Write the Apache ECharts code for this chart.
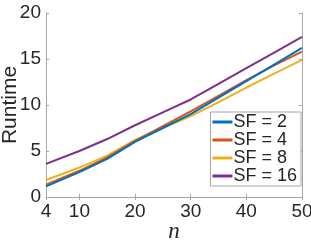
<!DOCTYPE html>
<html>
<head>
<meta charset="utf-8">
<script src="https://cdn.jsdelivr.net/npm/echarts@6/dist/echarts.min.js"></script>
<style>html,body{margin:0;padding:0;background:#fff}#c{width:311px;height:245px}</style>
</head>
<body>
<div id="c"></div>
<script>
var nValues = [4, 10, 15, 20, 25, 30, 35, 40, 45, 50];
var sf2  = [1.15, 2.7, 4.15, 6.0, 7.5, 9.0, 10.8, 12.6, 14.4, 16.2];
var sf4  = [1.35, 2.85, 4.3, 6.1, 7.7, 9.3, 11.0, 12.7, 14.3, 15.8];
var sf8  = [1.85, 3.2, 4.5, 6.2, 7.5, 8.8, 10.3, 11.9, 13.4, 14.9];
var sf16 = [3.6, 5.0, 6.3, 7.8, 9.2, 10.6, 12.3, 14.0, 15.7, 17.4];
var seriesNames = ['SF = 2', 'SF = 4', 'SF = 8', 'SF = 16'];
var xTicks = [4, 10, 20, 30, 40, 50];
var colors = ['#0072BD', '#D95319', '#EDB120', '#7E2F8E'];

function pairs(ys) { return nValues.map(function (x, i) { return [x, ys[i]]; }); }
var font = 'Liberation Sans, Arial, sans-serif';
var axisCol = '#a6a6a6';
var textCol = '#262626';

var chart = echarts.init(document.getElementById('c'), null, {renderer: 'canvas'});
var allData = [sf2, sf4, sf8, sf16];
chart.setOption({
  animation: false,
  color: colors,
  grid: {left: 46, right: 9, top: 13, bottom: 48, containLabel: false, outerBoundsMode: 'none'},
  legend: {
    right: 10, top: 112,
    orient: 'vertical',
    itemWidth: 20, itemHeight: 3, itemGap: 0,
    icon: 'rect',
    backgroundColor: '#fff',
    borderColor: axisCol, borderWidth: 1, borderRadius: 0,
    padding: [1, 4, 1, 2],
    textStyle: {fontFamily: font, fontSize: 18, color: textCol, padding: [0, 0, 0, -4], lineHeight: 18},
    data: seriesNames
  },
  xAxis: [{
    type: 'value', min: 4, max: 50,
    customValues: xTicks,
    axisLine: {show: true, lineStyle: {color: axisCol}},
    axisTick: {show: true, inside: true, length: 3, lineStyle: {color: axisCol}, customValues: xTicks},
    axisLabel: {fontFamily: font, fontSize: 19, color: textCol, margin: 5, customValues: xTicks},
    splitLine: {show: false},
    name: 'n', nameLocation: 'middle', nameGap: 23, nameMoveOverlap: false,
    nameTextStyle: {fontFamily: 'Liberation Serif, Times New Roman, serif', fontStyle: 'italic', fontSize: 23, color: textCol}
  }, {
    type: 'value', min: 4, max: 50, position: 'top',
    axisLine: {show: true, lineStyle: {color: axisCol}},
    axisTick: {show: true, inside: true, length: 3, lineStyle: {color: axisCol}, customValues: xTicks},
    axisLabel: {show: false, customValues: xTicks},
    splitLine: {show: false}
  }],
  yAxis: [{
    type: 'value', min: 0, max: 20, interval: 5,
    axisLine: {show: true, lineStyle: {color: axisCol}},
    axisTick: {show: true, inside: true, length: 3, lineStyle: {color: axisCol}},
    axisLabel: {fontFamily: font, fontSize: 19, color: textCol, margin: 5},
    splitLine: {show: false},
    name: 'Runtime', nameLocation: 'middle', nameGap: 25, nameRotate: 90, nameMoveOverlap: false,
    nameTextStyle: {fontFamily: font, fontSize: 21, color: textCol}
  }, {
    type: 'value', min: 0, max: 20, interval: 5, position: 'right',
    axisLine: {show: true, lineStyle: {color: axisCol}},
    axisTick: {show: true, inside: true, length: 3, lineStyle: {color: axisCol}},
    axisLabel: {show: false},
    splitLine: {show: false}
  }],
  series: seriesNames.map(function (name, i) {
    return {
      name: name, type: 'line', data: pairs(allData[i]),
      symbol: 'none', lineStyle: {width: 2}, z: 2 + (i === 0 ? 3 : i === 1 ? 2 : 1)
    };
  })
});
</script>
</body>
</html>
